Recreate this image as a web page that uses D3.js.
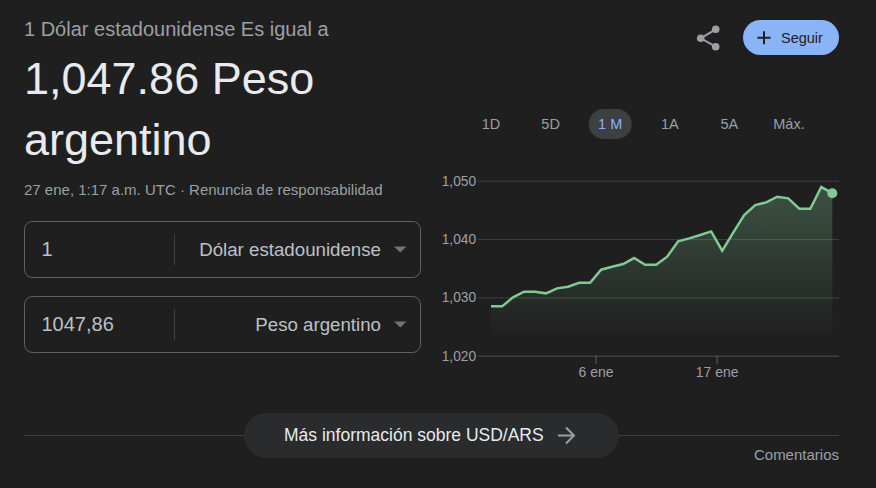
<!DOCTYPE html>
<html>
<head>
  <meta charset="utf-8">
  <script src="https://d3js.org/d3.v7.min.js"></script>
  <style>
    html, body { margin: 0; padding: 0; background: #1f1f1f; overflow: hidden; }
    svg { display: block; font-family: "Liberation Sans", Arial, sans-serif; }
    .axis .domain { display: none; }
    .axis text { font-family: "Liberation Sans", Arial, sans-serif; }
  </style>
</head>
<body>
<script>
// values
var dates = ["2024-12-27","2024-12-28","2024-12-29","2024-12-30","2024-12-31","2025-01-01","2025-01-02","2025-01-03",
             "2025-01-04","2025-01-05","2025-01-06","2025-01-07","2025-01-08","2025-01-09","2025-01-10","2025-01-11",
             "2025-01-12","2025-01-13","2025-01-14","2025-01-15","2025-01-16","2025-01-17","2025-01-18","2025-01-19",
             "2025-01-20","2025-01-21","2025-01-22","2025-01-23","2025-01-24","2025-01-25","2025-01-26","2025-01-27"];
var rates = [1028.46,1028.46,1030.0,1030.97,1030.97,1030.69,1031.54,1031.83,
             1032.51,1032.51,1034.74,1035.26,1035.71,1036.74,1035.6,1035.6,
             1036.97,1039.6,1040.11,1040.69,1041.31,1038.0,1041.09,1044.11,
             1045.83,1046.29,1047.26,1046.97,1045.2,1045.2,1048.91,1047.86];
var yTicks = [1020, 1030, 1040, 1050];
var xTicks = ["2025-01-06", "2025-01-17"];
var xTickLabels = ["6 ene", "17 ene"];
var periods = ["1D", "5D", "1 M", "1A", "5A", "Máx."];
var activePeriod = "1 M";

var width = 876, height = 488;
var svg = d3.select("body").append("svg").attr("width", width).attr("height", height);
svg.append("rect").attr("width", width).attr("height", height).attr("fill", "#1f1f1f");

function label(txt, x, y, size, color, anchor) {
  return svg.append("text").attr("x", x).attr("y", y).attr("font-size", size)
    .attr("fill", color).attr("text-anchor", anchor || "start").text(txt);
}

// ---- left header
label("1 Dólar estadounidense Es igual a", 24, 36, 20, "#9aa0a6");
label("1,047.86 Peso", 24, 94, 45, "#e8eaed");
label("argentino", 24, 155, 45, "#e8eaed");
label("27 ene, 1:17 a.m. UTC · Renuncia de responsabilidad", 24, 195, 15, "#9aa0a6");

// ---- converter boxes
var boxes = [
  {top: 221.5, value: "1", unit: "Dólar estadounidense"},
  {top: 296.5, value: "1047,86", unit: "Peso argentino"}
];
boxes.forEach(function(b) {
  svg.append("rect").attr("x", 24.5).attr("y", b.top).attr("width", 396).attr("height", 56)
    .attr("rx", 8).attr("fill", "none").attr("stroke", "#5f6368");
  svg.append("line").attr("x1", 174.5).attr("x2", 174.5).attr("y1", b.top + 12.5).attr("y2", b.top + 43.5)
    .attr("stroke", "#3c4043");
  label(b.value, 41.5, b.top + 34, 20, "#bdc1c6");
  label(b.unit, 381, b.top + 34, 18.7, "#bdc1c6", "end");
  svg.append("path").attr("d", "M394," + (b.top + 25) + "h12.5l-6.25,6z").attr("fill", "#70757a");
});

// ---- share + follow
var share = svg.append("g").attr("fill", "#9aa0a6");
share.append("path").attr("d", "M715.7,29.3L700.7,38.3L715.7,46.7").attr("fill", "none").attr("stroke", "#9aa0a6").attr("stroke-width", 2);
[[715.7, 29.3], [700.7, 38.3], [715.7, 46.7]].forEach(function(p) {
  share.append("circle").attr("cx", p[0]).attr("cy", p[1]).attr("r", 3.8);
});
svg.append("rect").attr("x", 743).attr("y", 20).attr("width", 96).attr("height", 35).attr("rx", 17.5).attr("fill", "#8ab4f8");
svg.append("path").attr("d", "M757.5,37.7h13M764,31.2v13").attr("stroke", "#202124").attr("stroke-width", 2).attr("fill", "none");
label("Seguir", 781, 42.5, 14.5, "#202124");

// ---- period selector
var periodX = d3.scalePoint().domain(periods).range([491, 789]);
svg.append("rect").attr("x", periodX(activePeriod) - 21.5).attr("y", 109).attr("width", 43).attr("height", 30)
  .attr("rx", 15).attr("fill", "#3c4043");
svg.selectAll(".period").data(periods).enter().append("text")
  .attr("class", "period")
  .attr("x", function(d) { return periodX(d); })
  .attr("y", 129)
  .attr("text-anchor", "middle")
  .attr("font-size", 14.5)
  .attr("fill", function(d) { return d === activePeriod ? "#8ab4f8" : "#9aa0a6"; })
  .text(function(d) { return d; });

// ---- chart
var parseDay = d3.utcParse("%Y-%m-%d");
var hour = 3600 * 1000;
var points = dates.map(function(d, i) {
  return {date: new Date(parseDay(d).getTime() + 12 * hour), rate: rates[i]};
});
var x = d3.scaleUtc()
  .domain([points[0].date, points[points.length - 1].date])
  .range([491, 832.3]);
var y = d3.scaleLinear().domain([1020, 1050]).range([355.7, 180.7]);

var defs = svg.append("defs");
var grad = defs.append("linearGradient").attr("id", "fade").attr("x1", 0).attr("x2", 0).attr("y1", 0).attr("y2", 1);
grad.append("stop").attr("offset", "0%").attr("stop-color", "#81c995").attr("stop-opacity", 0.3);
grad.append("stop").attr("offset", "100%").attr("stop-color", "#81c995").attr("stop-opacity", 0);

var yAxis = d3.axisLeft(y).tickValues(yTicks).tickFormat(d3.format(",")).tickSize(0).tickPadding(1.5);
var yG = svg.append("g").attr("class", "axis").attr("transform", "translate(477.7,0)").call(yAxis);
yG.selectAll("text").attr("font-size", 13.8).attr("fill", "#9aa0a6");
yG.selectAll(".tick").append("line").attr("x1", 0).attr("x2", 361.3)
  .attr("stroke", "#3c4043")
  .attr("stroke-width", function(d) { return d === 1020 ? 1.5 : 1; });

var area = d3.area().x(function(d) { return x(d.date); }).y0(338).y1(function(d) { return y(d.rate); });
var line = d3.line().x(function(d) { return x(d.date); }).y(function(d) { return y(d.rate); });
svg.append("path").datum(points).attr("d", area).attr("fill", "url(#fade)");
svg.append("path").datum(points).attr("d", line).attr("fill", "none").attr("stroke", "#81c995").attr("stroke-width", 2.5);
var last = points[points.length - 1];
svg.append("circle").attr("cx", x(last.date)).attr("cy", y(last.rate)).attr("r", 5).attr("fill", "#81c995");

var xAxis = d3.axisBottom(x)
  .tickValues(xTicks.map(parseDay))
  .tickFormat(function(d, i) { return xTickLabels[i]; })
  .tickSize(8).tickPadding(3);
var xG = svg.append("g").attr("class", "axis").attr("transform", "translate(0,355.7)").call(xAxis);
xG.selectAll("text").attr("font-size", 14).attr("fill", "#9aa0a6");
xG.selectAll("line").attr("stroke", "#5f6368");

// ---- footer
svg.append("line").attr("x1", 24).attr("x2", 839).attr("y1", 435.5).attr("y2", 435.5).attr("stroke", "#3c4043");
svg.append("rect").attr("x", 244).attr("y", 413).attr("width", 375).attr("height", 45).attr("rx", 22.5).attr("fill", "#292b2d");
label("Más información sobre USD/ARS", 284, 441, 17.5, "#e8eaed");
svg.append("path").attr("d", "M558,435.5h15.5M566,427.5l8,8l-8,8").attr("stroke", "#9aa0a6").attr("stroke-width", 2).attr("fill", "none");
label("Comentarios", 839, 460, 15, "#9aa0a6", "end");
</script>
</body>
</html>
